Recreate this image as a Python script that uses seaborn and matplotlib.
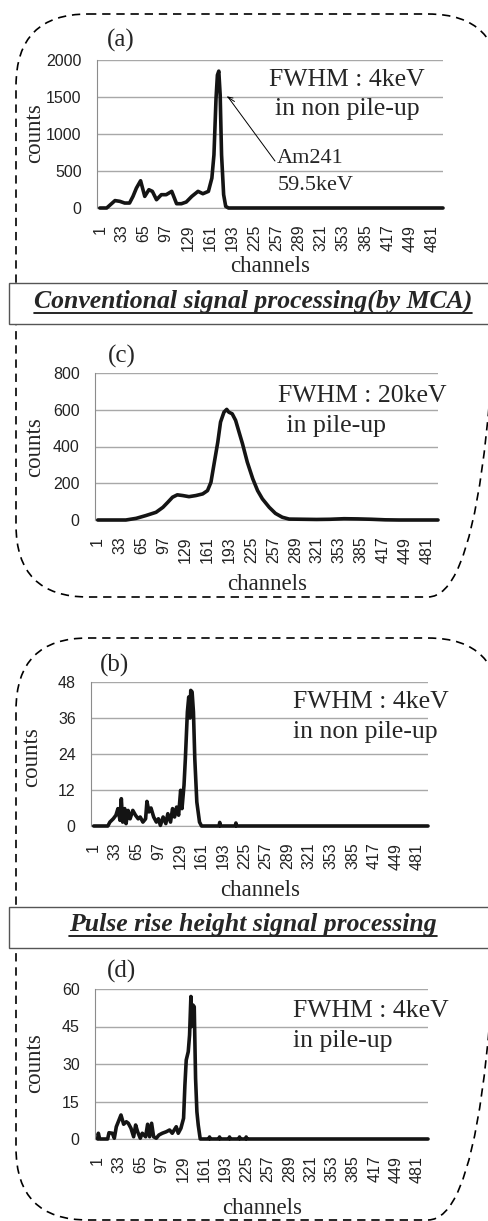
import matplotlib
matplotlib.use("Agg")
import matplotlib.pyplot as plt
import matplotlib.transforms as mtransforms
from matplotlib.patches import FancyBboxPatch, Rectangle
from matplotlib.lines import Line2D
import seaborn as sns
import pandas as pd

# --- data (channel, counts) ---
ch_a = [1, 11, 23, 30, 37, 44, 49, 54, 60, 66, 72, 77, 83, 90, 97, 105, 112, 119, 126, 134,
        143, 150, 158, 163, 166, 169, 171, 173, 175, 177, 180, 183, 187, 497]
counts_a = [0, 0, 100, 90, 67, 67, 157, 270, 368, 157, 247, 225, 112, 180, 180, 225, 58, 58, 81, 157,
            225, 193, 225, 404, 718, 1480, 1796, 1850, 1527, 718, 180, 22, 0, 0]

ch_c = [1, 42, 57, 71, 86, 96, 103, 110, 117, 125, 134, 144, 154, 161, 166, 171, 176, 180, 185, 189,
        192, 197, 202, 207, 212, 219, 227, 234, 241, 251, 260, 270, 280, 300, 320, 340, 360, 380, 400, 420,
        440, 497]
counts_c = [0, 0, 9, 24, 42, 69, 96, 124, 137, 133, 127, 133, 142, 160, 205, 315, 424, 533, 587, 602,
            587, 578, 542, 478, 415, 315, 224, 160, 115, 69, 36, 15, 5, 4, 3, 4, 7, 6, 4, 1,
            0, 0]

ch_b = [1, 22, 25, 30, 34, 37, 40, 42, 44, 47, 49, 52, 55, 59, 63, 67, 70, 74, 78, 80,
        83, 86, 90, 94, 97, 100, 104, 108, 111, 115, 118, 121, 124, 127, 130, 132, 135, 137, 140, 142,
        144, 145, 147, 149, 151, 154, 158, 161, 187, 188, 189, 211, 212, 213, 497]
counts_b = [0, 0, 1.3, 2.4, 3.6, 5.8, 1.9, 9.1, 1.3, 5.8, 0.8, 5.2, 2.4, 5.2, 3.6, 2.4, 3, 1.3, 2.4, 8.2,
            4.7, 6, 3, 1.3, 2.4, 0.2, 3, 0.8, 4.1, 1.3, 5.8, 3, 6.3, 3.6, 11.9, 5.8, 13.6, 22.4, 38, 43,
            36, 45.2, 44.7, 38, 22.4, 8, 1.3, 0, 0, 1.2, 0, 0, 1, 0, 0]

ch_d = [1, 2, 4, 16, 18, 23, 26, 29, 32, 36, 40, 44, 47, 51, 55, 58, 61, 65, 68, 73,
        76, 79, 82, 85, 89, 93, 98, 104, 109, 113, 119, 122, 126, 130, 132, 134, 137, 139, 141, 142,
        144, 146, 148, 150, 152, 155, 168, 169, 170, 183, 184, 185, 198, 199, 200, 213, 214, 215, 223, 224,
        225, 497]
counts_d = [0, 2.3, 0, 0, 2.5, 2.3, 0.3, 4.9, 6.9, 9.6, 5.9, 6.9, 6.3, 4.3, 0.9, 5.6, 2.9, 0.3, 2.3, 0.9,
            5.9, 0.9, 6.3, 0.9, 0.3, 1.6, 2.3, 2.9, 3.6, 2.3, 4.9, 2.3, 4.3, 8.3, 21.6, 31.6, 34.9, 41.6, 57, 45,
            53.6, 52.9, 24.3, 10.9, 5.6, 0, 0, 0.8, 0, 0, 0.8, 0, 0, 0.8, 0, 0, 0.8, 0, 0, 0.8,
            0, 0]

x_ticks = list(range(1, 482, 32))

# panel: (label, channels, counts, yticks, axes box in px [left, top, right, bottom],
#         label pos, fwhm line 1, fwhm line 2, counts pos, channels pos)
PANELS = [
    ("(a)", ch_a, counts_a, [0, 500, 1000, 1500, 2000], (97, 60, 443, 208),
     (107, 47), ("FWHM : 4keV", 269, 86), ("in non pile-up", 275, 115), (35, 133), (270, 267)),
    ("(c)", ch_c, counts_c, [0, 200, 400, 600, 800], (95, 373, 438, 520),
     (108, 363), ("FWHM : 20keV", 278, 402), (" in pile-up", 280, 432), (35, 447), (267, 585)),
    ("(b)", ch_b, counts_b, [0, 12, 24, 36, 48], (91, 682, 428, 826),
     (100, 672), ("FWHM : 4keV", 293, 708), ("in non pile-up", 293, 738), (32, 757), (260, 890)),
    ("(d)", ch_d, counts_d, [0, 15, 30, 45, 60], (95, 989, 428, 1139),
     (107, 978), ("FWHM : 4keV", 293, 1017), ("in pile-up", 293, 1047), (35, 1063), (262, 1208)),
]

W, H = 489, 1221
SERIF = "Liberation Serif"
SANS = "Liberation Sans"

sns.set_style("white")
plt.rcParams["font.family"] = [SANS, "DejaVu Sans"]

fig = plt.figure(figsize=(W / 100, H / 100), dpi=100)
fig.patch.set_facecolor("white")

# pixel transform (origin top-left, y down)
px = mtransforms.Affine2D().scale(1 / W, -1 / H).translate(0, 1) + fig.transFigure


def ftext(x, y, s, **kw):
    return fig.text(x / W, 1 - y / H, s, **kw)


# dashed rounded frames
for (x0, y0, x1, y1) in [(16, 14, 500, 597), (16, 638, 500, 1220)]:
    fig.add_artist(FancyBboxPatch((x0, y0), x1 - x0, y1 - y0,
                                  boxstyle="round,pad=0,rounding_size=72",
                                  transform=px, facecolor="none", edgecolor="black",
                                  linewidth=1.2, linestyle=(0, (5, 3.5)), zorder=0.5))

for label, ch, cnt, yt, box, lpos, f1, f2, ylab, xlab in PANELS:
    l, t, r, b = box
    ax = fig.add_axes([l / W, 1 - b / H, (r - l) / W, (b - t) / H])
    ax.set_facecolor("none")
    df = pd.DataFrame({"channel": ch, "counts": cnt})
    sns.lineplot(data=df, x="channel", y="counts", ax=ax, color="#141414",
                 linewidth=2.6, errorbar=None)
    for ln in ax.lines:
        ln.set_clip_on(False)
        ln.set_zorder(5)
    ax.set_xlim(-3, 497)
    ax.set_ylim(yt[0], yt[-1])
    ax.set_yticks(yt)
    ax.set_xticks(x_ticks)
    ax.set_xticklabels([str(v) for v in x_ticks], rotation=90)
    ax.tick_params(axis="y", length=0, pad=11, labelsize=11.5, labelcolor="#222222")
    ax.tick_params(axis="x", length=0, pad=12, labelsize=11.5, labelcolor="#222222")
    ax.yaxis.grid(True, color="#a8a8a8", linewidth=1.0)
    ax.xaxis.grid(False)
    for s in ["top", "right"]:
        ax.spines[s].set_visible(False)
    ax.spines["left"].set_color("#8c8c8c")
    ax.spines["bottom"].set_color("#a8a8a8")
    ax.set_xlabel("")
    ax.set_ylabel("")

    ftext(lpos[0], lpos[1], label, family=SERIF, fontsize=18, va="baseline")
    ftext(f1[1], f1[2], f1[0], family=SERIF, fontsize=18.5, va="baseline")
    ftext(f2[1], f2[2], f2[0], family=SERIF, fontsize=18.5, va="baseline")
    ftext(ylab[0], ylab[1], "counts", family=SERIF, fontsize=16.5, rotation=90,
          ha="center", va="center")
    ftext(xlab[0], xlab[1], "channels", family=SERIF, fontsize=16.5,
          ha="center", va="center")

# Am241 annotation in panel (a)
fig.add_artist(Line2D([275, 228], [161, 97], transform=px, color="black", linewidth=0.7))
fig.add_artist(Line2D([233, 227.5, 234.5], [98, 97, 101.5], transform=px, color="black", linewidth=0.7))
ftext(277, 163, "Am241", family=SERIF, fontsize=16, va="baseline")
ftext(278, 190, "59.5keV", family=SERIF, fontsize=16, va="baseline")

# banners
banners = [("Conventional signal processing(by MCA)", 283, 324, 308),
           ("Pulse rise height signal processing", 907, 948, 931)]
btexts = []
for txt, top, bot, base in banners:
    fig.add_artist(Rectangle((9, top), 500, bot - top, transform=px, facecolor="white",
                             edgecolor="#555555", linewidth=1.0, zorder=1))
    tt = ftext(253, base, txt, family=SERIF, fontsize=18.5, fontweight="bold",
               fontstyle="italic", ha="center", va="baseline", zorder=2)
    btexts.append((tt, base))

fig.canvas.draw()
for tt, base in btexts:
    bb = tt.get_window_extent()
    fig.add_artist(Line2D([bb.x0, bb.x1], [base + 4.5, base + 4.5], transform=px,
                          color="black", linewidth=1.2, zorder=2))

fig.savefig("out.png", dpi=100, facecolor="white")
